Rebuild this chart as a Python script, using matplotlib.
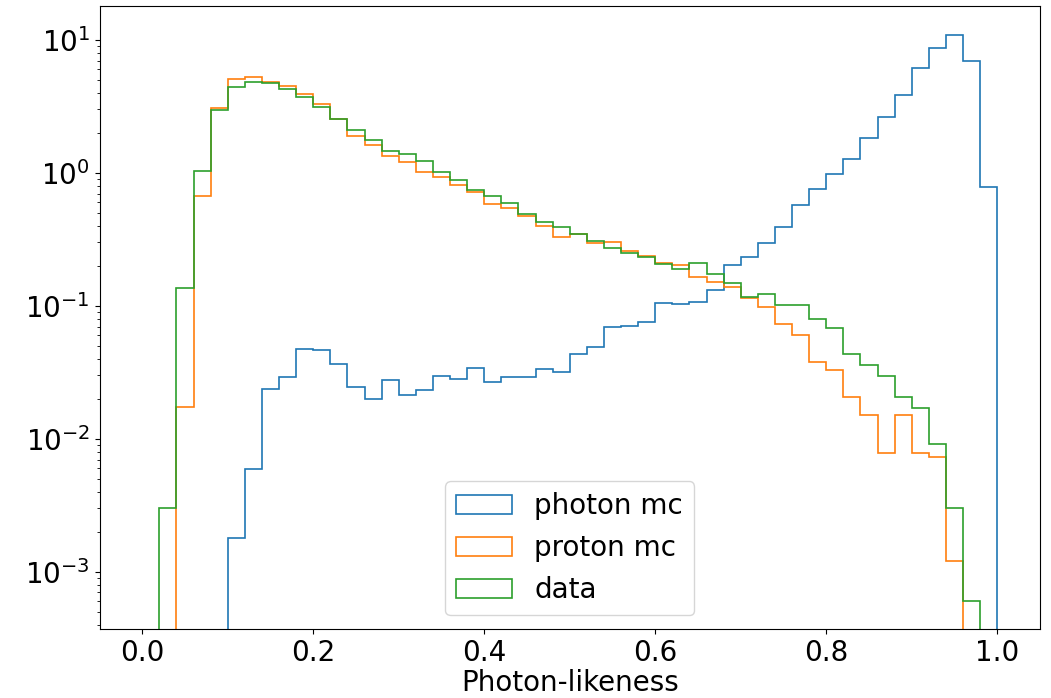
import numpy as np
import matplotlib
matplotlib.use("Agg")
import matplotlib.pyplot as plt

# 50 bins from 0 to 1
bin_edges = np.linspace(0.0, 1.0, 51)

photon_mc = [0, 0, 0, 0, 0,
             1.79e-3, 5.94e-3, 0.0239, 0.0292, 0.0472,
             0.0467, 0.0366, 0.0245, 0.0199, 0.0275,
             0.0215, 0.0233, 0.0298, 0.0282, 0.0344,
             0.0270, 0.0294, 0.0294, 0.0338, 0.0319,
             0.0435, 0.0489, 0.0692, 0.0704, 0.0753,
             0.1054, 0.1035, 0.1076, 0.1313, 0.203,
             0.235, 0.296, 0.394, 0.574, 0.758,
             0.988, 1.27, 1.84, 2.64, 3.88,
             6.16, 8.75, 10.9, 6.95, 0.785]

proton_mc = [0, 0, 0.0175, 0.675, 3.06,
             5.12, 5.27, 4.86, 4.53, 3.93,
             3.30, 2.55, 1.91, 1.63, 1.33,
             1.20, 1.02, 0.94, 0.813, 0.723,
             0.585, 0.543, 0.475, 0.402, 0.332,
             0.346, 0.299, 0.303, 0.261, 0.239,
             0.212, 0.202, 0.166, 0.152, 0.138,
             0.114, 0.0988, 0.0727, 0.0605, 0.0379,
             0.0330, 0.0206, 0.0151, 0.00788, 0.0151,
             0.00788, 0.00728, 0.00121, 0, 0]

data = [0, 3.03e-3, 0.137, 1.04, 2.98,
        4.41, 4.86, 4.73, 4.29, 3.75,
        3.12, 2.55, 2.10, 1.76, 1.47,
        1.38, 1.22, 1.01, 0.881, 0.741,
        0.671, 0.590, 0.492, 0.431, 0.394,
        0.348, 0.308, 0.273, 0.249, 0.235,
        0.206, 0.191, 0.210, 0.174, 0.148,
        0.117, 0.122, 0.102, 0.102, 0.0794,
        0.0680, 0.0434, 0.0358, 0.0298, 0.0206,
        0.0171, 0.00912, 0.00303, 6.05e-4, 0]

labels = ["photon mc", "proton mc", "data"]
x_label = "Photon-likeness"

plt.rcParams['font.size'] = 20

W, H = 1051, 698
fig = plt.figure(figsize=(W / 100, H / 100), dpi=100)
ax = fig.add_axes([99.5 / W, 1 - 629 / H, (1040 - 99.5) / W, (629 - 6) / H])

centers = 0.5 * (bin_edges[:-1] + bin_edges[1:])
for vals, lab, col in zip([photon_mc, proton_mc, data], labels, ["C0", "C1", "C2"]):
    ax.hist(centers, bins=bin_edges, weights=vals, histtype='step',
            color=col, label=lab, log=True, linewidth=1.2)

ax.set_yscale('log')
ax.set_xlim(-0.05, 1.05)
ax.set_ylim(3.72e-4, 18.0)
ax.set_xlabel(x_label, labelpad=1.5)
ax.legend(loc='lower center')

fig.savefig("out.png", dpi=100)
